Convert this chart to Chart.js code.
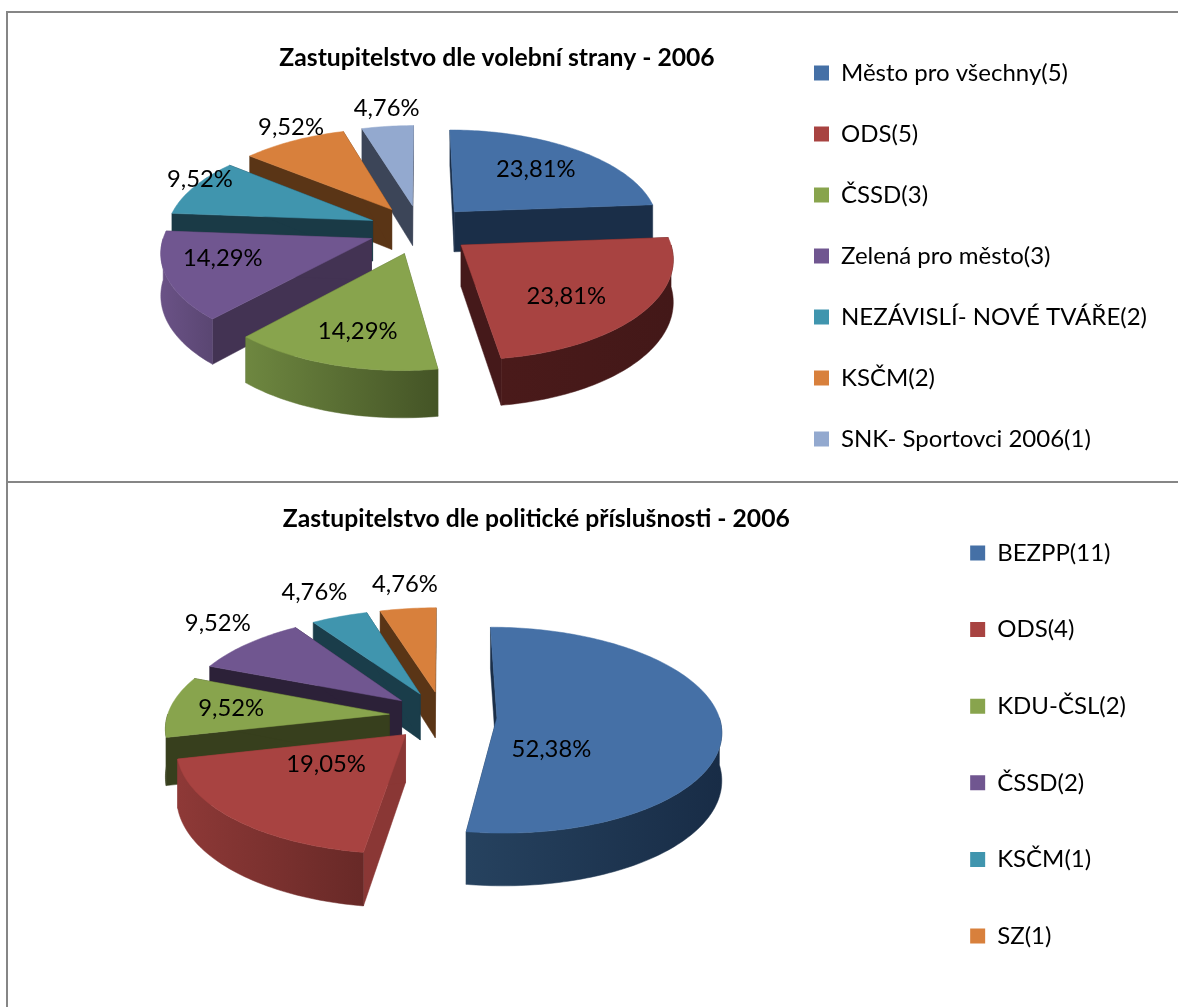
<!DOCTYPE html>
<html>
<head>
<meta charset="utf-8">
<title>Zastupitelstvo 2006</title>
<script src="https://cdnjs.cloudflare.com/ajax/libs/Chart.js/4.4.1/chart.umd.min.js"></script>
<style>
  html, body { margin: 0; background: #fff; }
  #page { position: relative; width: 1178px; height: 1007px; overflow: hidden; }
  canvas { position: absolute; }
  .line { position: absolute; background: #868686; }
</style>
</head>
<body>
<div id="page">
  <div class="line" style="left:6px;top:11px;width:2px;height:996px"></div>
  <div class="line" style="left:6px;top:11px;width:1172px;height:2px"></div>
  <div class="line" style="left:6px;top:481px;width:1172px;height:2px"></div>
  <canvas id="strany" style="left:0;top:13px"></canvas>
  <canvas id="prislusnost" style="left:0;top:483px"></canvas>
</div>
<script>
const FONT = 'Lato, Carlito, sans-serif';

// data
const stranyLabels = ['Město pro všechny(5)', 'ODS(5)', 'ČSSD(3)', 'Zelená pro město(3)', 'NEZÁVISLÍ- NOVÉ TVÁŘE(2)', 'KSČM(2)', 'SNK- Sportovci 2006(1)'];
const stranyValues = [5, 5, 3, 3, 2, 2, 1];
const prislusnostLabels = ['BEZPP(11)', 'ODS(4)', 'KDU-ČSL(2)', 'ČSSD(2)', 'KSČM(1)', 'SZ(1)'];
const prislusnostValues = [11, 4, 2, 2, 1, 1];

// slice colours
const topColors = ['#4570A6', '#A84341', '#88A44D', '#705690', '#4095AE', '#D8803C', '#93A9CF'];
const stranyCut = ['#1A2E48', '#45191A', '#4F6130', '#433353', '#1A3A46', '#5A3516', '#3C4558'];
const stranyWallFrom = ['#1A2E48', '#4A1A1A', '#6E8740', '#6A5286', '#1A3A46', '#5A3516', '#3C4558'];
const stranyWallTo = ['#1A2E48', '#431818', '#445426', '#5A4672', '#1A3A46', '#5A3516', '#3C4558'];
const prislusnostCut = ['#1A2E48', '#8A3735', '#373F1D', '#2C2138', '#1A3D4A', '#5A3516'];
const prislusnostWallFrom = ['#26425F', '#8E3937', '#373F1D', '#2C2138', '#1A3D4A', '#5A3516'];
const prislusnostWallTo = ['#182C46', '#682927', '#373F1D', '#2C2138', '#1A3D4A', '#5A3516'];

// label placement, as radial / tangential fractions of the pie radius
const stranyLabelR = [0.905, 0.905, 0.968, 0.965, 1.265, 1.43, 1.528];
const stranyLabelT = [-0.003, 0.078, -0.015, 0.07, 0.086, 0.08, 0.028];
const prislusnostLabelR = [0.493, 0.67, 0.965, 1.55, 1.63, 1.6];
const prislusnostLabelT = [0.28, 0.06, 0, 0.086, 0.004, 0.027];

const pct = function(v, total) {
  return (v / total * 100).toFixed(2).replace('.', ',') + '%';
};

// fake the 3D exploded pie: arcs come from the chart, the plugin only projects them
const pie3d = {
  id: 'pie3d',
  beforeDatasetsDraw(chart, args, o) {
    const ctx = chart.ctx;
    const meta = chart.getDatasetMeta(0);
    const values = chart.data.datasets[0].data;
    const total = values.reduce((a, b) => a + b, 0);

    const project = function(u, v, h) {
      const s = 1 + o.persp * v;
      return [o.cx + o.rx * u * s, o.cy + o.ry * v * s + (h ? o.depth * s : 0)];
    };

    const slices = meta.data.map((arc, i) => {
      const a0 = arc.startAngle, a1 = arc.endAngle, mid = (a0 + a1) / 2;
      return {i, arc, a0, a1, mid, du: Math.cos(mid) * o.explode, dv: Math.sin(mid) * o.explode};
    });
    const order = slices.slice().sort((p, q) => {
      return (p.dv + Math.sin(p.mid) * 0.5) - (q.dv + Math.sin(q.mid) * 0.5);
    });

    const poly = function(pts, fill) {
      ctx.beginPath();
      pts.forEach((p, n) => n ? ctx.lineTo(p[0], p[1]) : ctx.moveTo(p[0], p[1]));
      ctx.closePath();
      ctx.fillStyle = fill;
      ctx.fill();
      ctx.strokeStyle = fill;
      ctx.lineWidth = 0.5;
      ctx.stroke();
    };

    const arcPts = function(sl, from, to, h) {
      const pts = [];
      const n = Math.max(2, Math.ceil((to - from) / 0.02));
      for (let k = 0; k <= n; k++) {
        const a = from + (to - from) * k / n;
        pts.push(project(sl.du + Math.cos(a), sl.dv + Math.sin(a), h));
      }
      return pts;
    };

    order.forEach(sl => {
      const i = sl.i;
      const tipTop = project(sl.du, sl.dv, false);
      const tipLow = project(sl.du, sl.dv, true);
      // the two cut faces
      [sl.a0, sl.a1].forEach(a => {
        const e = [sl.du + Math.cos(a), sl.dv + Math.sin(a)];
        poly([tipTop, project(e[0], e[1], false), project(e[0], e[1], true), tipLow], o.cut[i]);
      });
      // outer wall, front facing part only
      let from = sl.a0, to = sl.a1;
      for (let turn = -2; turn <= 2; turn++) {
        const lo = Math.max(from, turn * Math.PI * 2);
        const hi = Math.min(to, turn * Math.PI * 2 + Math.PI);
        if (hi > lo) {
          const upper = arcPts(sl, lo, hi, false);
          const lower = arcPts(sl, lo, hi, true).reverse();
          const xs = upper.map(p => p[0]);
          const g = ctx.createLinearGradient(Math.min(...xs), 0, Math.max(...xs), 0);
          g.addColorStop(0, o.wallFrom[i]);
          g.addColorStop(1, o.wallTo[i]);
          poly(upper.concat(lower), g);
        }
      }
      // top face
      poly([tipTop].concat(arcPts(sl, sl.a0, sl.a1, false)), sl.arc.options.backgroundColor);
    });

    // value labels
    ctx.save();
    ctx.font = o.labelFont;
    ctx.fillStyle = '#000';
    ctx.textAlign = 'center';
    ctx.textBaseline = 'middle';
    slices.forEach(sl => {
      const r = o.labelR[sl.i], t = o.labelT[sl.i];
      const c = Math.cos(sl.mid), s = Math.sin(sl.mid);
      const p = project(c * r - s * t, s * r + c * t, false);
      ctx.fillText(pct(values[sl.i], total), p[0], p[1]);
    });
    ctx.restore();
    return false;
  }
};

const make = function(id, w, h, labels, values, title, o, legendPad, padLeft) {
  const canvas = document.getElementById(id);
  canvas.width = w;
  canvas.height = h;
  canvas.style.width = w + 'px';
  canvas.style.height = h + 'px';
  return new Chart(canvas, {
    type: 'pie',
    data: {labels: labels, datasets: [{data: values, backgroundColor: topColors.slice(0, values.length), borderWidth: 0}]},
    options: {
      responsive: false,
      animation: false,
      layout: {padding: {left: padLeft, top: o.padTop}},
      plugins: {
        tooltip: {enabled: false},
        title: {
          display: true,
          text: title,
          fullSize: false,
          color: '#000',
          font: {family: FONT, size: 24.7, weight: 'bold'},
          padding: {top: o.titleTop, bottom: 4}
        },
        legend: {
          position: 'right',
          align: 'start',
          labels: {color: '#000', font: {family: FONT, size: 24}, boxWidth: 15, boxHeight: 15, padding: legendPad}
        },
        pie3d: o
      }
    },
    plugins: [pie3d]
  });
};

make('strany', 1157, 520, stranyLabels, stranyValues, 'Zastupitelstvo dle volební strany - 2006', {
  cx: 420, cy: 216.4, rx: 206, ry: 98.6, persp: 0.125, depth: 41, explode: 0.25,
  cut: stranyCut, wallFrom: stranyWallFrom, wallTo: stranyWallTo,
  labelR: stranyLabelR, labelT: stranyLabelT, labelFont: '23.8px ' + FONT,
  padTop: 11, titleTop: 19
}, 37, 217);

make('prislusnost', 1136, 524, prislusnostLabels, prislusnostValues, 'Zastupitelstvo dle politické příslušnosti - 2006', {
  cx: 443, cy: 233, rx: 222, ry: 102.5, persp: 0.12, depth: 47, explode: 0.243,
  cut: prislusnostCut, wallFrom: prislusnostWallFrom, wallTo: prislusnostWallTo,
  labelR: prislusnostLabelR, labelT: prislusnostLabelT, labelFont: '23.8px ' + FONT,
  padTop: 5.4, titleTop: 16
}, 52.6, 155);
</script>
</body>
</html>
